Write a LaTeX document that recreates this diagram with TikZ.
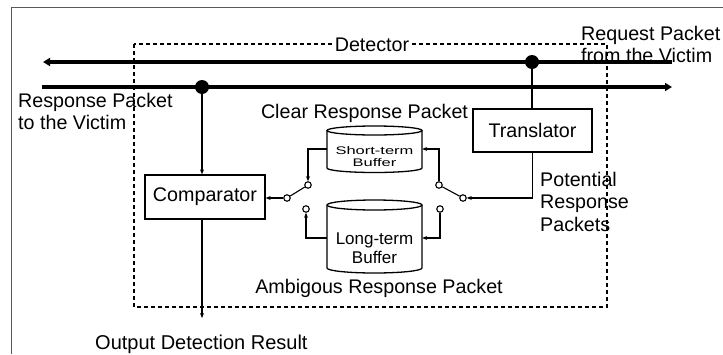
\documentclass[tikz,border=0pt]{standalone}
\usepackage{fontspec}
\setmainfont{Liberation Sans}
\newfontfamily\widefont[FakeStretch=1.5]{Liberation Sans}
\usetikzlibrary{arrows.meta}
\begin{document}
\begin{tikzpicture}[x=1pt,y=-1pt,
  lbl/.style={font=\fontsize{19.7}{22}\selectfont, inner sep=0pt},
  box/.style={draw, line width=1.3pt, inner sep=0pt, font=\fontsize{19.7}{22}\selectfont},
  wire/.style={line width=1.1pt},
  arr/.style={wire,-{Stealth[length=5pt,width=4pt]}},
  bus/.style={line width=4pt},
  term/.style={circle, draw, line width=1.1pt, fill=white, minimum size=6.5pt, inner sep=0pt},
  jdot/.style={circle, fill=black, minimum size=14pt, inner sep=0pt},
  cyl/.style={line width=1.3pt},
]
\useasboundingbox (0,0) rectangle (723,354);
\draw[line width=1pt, black!65] (11,354) -- (11,7) -- (723,7);

% detector box
\draw[dash pattern=on 4pt off 3pt, line width=1.1pt] (134,44) rectangle (607,307);
\node[lbl, fill=white, inner xsep=2pt] (det) at (372,45) {Detector};

% buses
\coordinate (tl) at (43,62);
\coordinate (tr) at (672,62);
\coordinate (bl) at (42,87);
\coordinate (br) at (672,87);
\draw[bus, -{Triangle[length=7pt,width=8pt]}] (tr) -- (tl);
\draw[bus, -{Triangle[length=7pt,width=8pt]}] (bl) -- (br);
\node[jdot] (d1) at (202,87) {};
\node[jdot] (d2) at (532,62) {};

% boxes
\node[box, minimum width=120pt, minimum height=44pt] (comp) at (205,197) {Comparator};
\node[box, minimum width=119pt, minimum height=43pt] (trans) at (532.5,130.5) {Translator};

% buffers
\node[minimum width=95pt, minimum height=46pt, inner sep=0] (sb) at (374.5,149) {};
\draw[cyl] (374.5,130.5) ellipse [x radius=47.5, y radius=4.5];
\draw[cyl] (327,130.5) -- (327,168) arc[start angle=180, end angle=0, x radius=47.5, y radius=4.5] -- (422,130.5);
\node[font=\widefont\fontsize{11}{12}\selectfont, align=center, inner sep=0] (sbt) at (374.5,157) {Short-term\\Buffer};

\node[minimum width=95pt, minimum height=70pt, inner sep=0] (lb) at (374.5,238) {};
\draw[cyl] (374.5,205) ellipse [x radius=47.5, y radius=5];
\draw[cyl] (327,205) -- (327,268) arc[start angle=180, end angle=0, x radius=47.5, y radius=5] -- (422,205);
\node[font=\fontsize{17}{19}\selectfont, align=center, inner sep=0] (lbt) at (374.5,248) {Long-term\\Buffer};

% switch terminals
\node[term] (L0) at (287,198) {};
\node[term] (L1) at (308,185) {};
\node[term] (L2) at (306,209) {};
\node[term] (R0) at (463,198) {};
\node[term] (R1) at (439,185) {};
\node[term] (R2) at (440,209) {};

% connectors
\draw[arr] (d1) -- (d1 |- comp.north);
\coordinate (outp) at (202,318);
\draw[arr] (d1 |- comp.south) -- (outp);
\draw[wire] (d2) -- (d2 |- trans.north);
\draw[arr] (trans.south) -- (trans.south |- R0) -- (R0);
\draw[wire] (R0) -- (R1);
\draw[wire] (L0) -- (L1);
\draw[arr] (L0) -- (comp.east |- L0);
\draw[arr] (sb.west) -| (L1);
\draw[arr] (R1) |- (sb.east);
\draw[arr] (R2) |- (lb.east);
\draw[arr] (lb.west) -| (L2);

% labels
\node[lbl, align=left, anchor=north west] (req) at (581,26) {Request Packet\\from the Victim};
\node[lbl, align=left, anchor=north west] (resp) at (18,93) {Response Packet\\to the Victim};
\node[lbl, align=left, anchor=north west, font=\fontsize{19.7}{22.5}\selectfont] (pot) at (540,172) {Potential\\Response\\Packets};
\node[lbl, anchor=base] (clear) at (364.5,118) {Clear Response Packet};
\node[lbl, anchor=base] (amb) at (379,293) {Ambigous Response Packet};
\node[lbl, anchor=base west, font=\fontsize{20}{22}\selectfont] (out) at (95,349) {Output Detection Result};
\end{tikzpicture}
\end{document}
